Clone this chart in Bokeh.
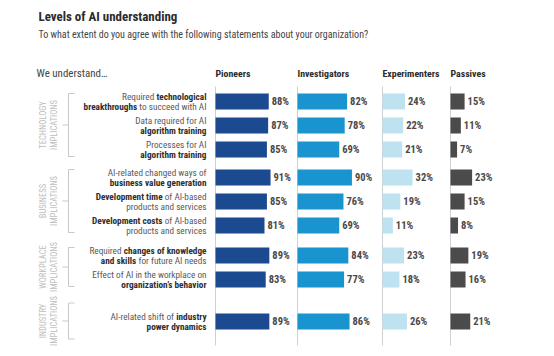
import glob, os, math
from bokeh.plotting import figure
from bokeh.models import Range1d
from bokeh.core.properties import value
from bokeh.embed import file_html
from bokeh.resources import INLINE

# ---------------- data ----------------
title = "Levels of AI understanding"
subtitle = "To what extent do you agree with the following statements about your organization?"
lead = "We understand…"
series_names = ["Pioneers", "Investigators", "Experimenters", "Passives"]

statement_top = [
    "Required **technological**",
    "Data required for AI",
    "Processes for AI",
    "AI-related changed ways of",
    "**Development time** of AI-based",
    "**Development costs** of AI-based",
    "Required **changes of knowledge**",
    "Effect of AI in the workplace on",
    "AI-related shift of **industry**",
]
statement_bottom = [
    "**breakthroughs** to succeed with AI",
    "**algorithm training**",
    "**algorithm training**",
    "**business value generation**",
    "products and services",
    "products and services",
    "**and skills** for future AI needs",
    "**organization’s behavior**",
    "**power dynamics**",
]
group_line1 = ["TECHNOLOGY", "BUSINESS", "WORKPLACE", "INDUSTRY"]
group_line2 = ["IMPLICATIONS", "IMPLICATIONS", "IMPLICATIONS", "IMPLICATIONS"]
group_sizes = [3, 3, 2, 1]

pioneers = [88, 87, 85, 91, 85, 81, 89, 83, 89]
investigators = [82, 78, 69, 90, 76, 69, 84, 77, 86]
experimenters = [24, 22, 21, 32, 19, 11, 23, 18, 26]
passives = [15, 11, 7, 23, 15, 8, 19, 16, 21]

# ---------------- fonts ----------------
def find_file(names):
    dirs = ["/usr/share/fonts", "/usr/local/share/fonts",
            os.path.expanduser("~/.fonts"), os.path.expanduser("~/.local/share/fonts")]
    for n in names:
        for d in dirs:
            hits = glob.glob(os.path.join(d, "**", n), recursive=True)
            if hits:
                return hits[0]
    return None

FONT = "Liberation Sans Narrow"
REG = find_file(["LiberationSansNarrow-Regular.ttf"])
BLD = find_file(["LiberationSansNarrow-Bold.ttf"])
if not (REG and BLD):
    FONT = "Roboto Condensed"
    REG = find_file(["RobotoCondensed-Regular.ttf"])
    BLD = find_file(["RobotoCondensed-Bold.ttf"])
if not (REG and BLD):
    FONT = "Roboto"
    REG = find_file(["Roboto-Regular.ttf"])
    BLD = find_file(["Roboto-Bold.ttf"])

_fonts = {}
def text_w(s, size, bold):
    path = BLD if bold else REG
    try:
        from PIL import ImageFont
        if path not in _fonts:
            _fonts[path] = ImageFont.truetype(path, 100)
        return _fonts[path].getlength(s) * size / 100.0
    except Exception:
        return len(s) * size * (0.5 if bold else 0.46)

def fit(s, bold, target, default, lo=6.0, hi=20.0):
    w = text_w(s, 1.0, bold)
    if w <= 0:
        return default
    return max(lo, min(hi, target / w))

def parse(line):
    parts = line.split("**")
    segs = []
    for i, t in enumerate(parts):
        t = t.strip()
        if t:
            segs.append((t, i % 2 == 1))
    return segs

def line_w(segs, size):
    w = sum(text_w(t, size, b) for t, b in segs)
    w += (len(segs) - 1) * text_w(" ", size, False)
    return w

# ---------------- figure ----------------
W, H = 554, 356
p = figure(width=W, height=H, x_range=Range1d(0, W), y_range=Range1d(H, 0),
           output_backend="svg", toolbar_location=None, min_border=0,
           x_axis_type=None, y_axis_type=None)
p.xgrid.visible = False
p.ygrid.visible = False
p.outline_line_color = None
p.background_fill_color = "white"
p.border_fill_color = "white"

def txt(x, y, s, size, bold=False, color="#333333", align="left", angle=0.0, rng="default"):
    p.text(x=[x], y=[y], text=[s], text_font=value(FONT), text_font_size=f"{size:.2f}px",
           text_font_style="bold" if bold else "normal", text_color=color,
           text_align=align, text_baseline="middle", angle=angle, x_range_name=rng)

# title & subtitle
txt(38, 16, title, fit(title, True, 139, 13), bold=True, color="#2b2b2b")
txt(38, 34, subtitle, fit(subtitle, False, 330, 9.6), color="#444444")
txt(36, 73, lead, fit(lead, False, 71, 9.2), color="#444444")

# row positions
group_gap = [0, 4, 10, 28]
row_y = []
i = 0
for g, n in enumerate(group_sizes):
    for _ in range(n):
        row_y.append(101 + 24 * i + group_gap[g])
        i += 1

# columns with their own scales
col_x0 = [215, 297, 382, 450]
col_px = [0.605, 0.605, 0.94, 0.94]
col_colors = ["#1c4a90", "#1a94cf", "#bee2ef", "#4b4b4b"]
col_data = [pioneers, investigators, experimenters, passives]
hdr_size = fit("Experimenters", True, 57, 9.6)

for k, name in enumerate(series_names):
    rn = f"c{k}"
    p.extra_x_ranges[rn] = Range1d(-col_x0[k] / col_px[k], (W - col_x0[k]) / col_px[k])
    p.segment(x0=[0], x1=[0], y0=[86], y1=[345], line_color="#d0d0d0", line_width=1,
              x_range_name=rn)
    p.hbar(y=row_y, left=0, right=col_data[k], height=16, fill_color=col_colors[k],
           line_color=None, x_range_name=rn)
    p.text(x=col_data[k], y=row_y, text=[f"{v}%" for v in col_data[k]], x_offset=3,
           text_font=value(FONT), text_font_size="10.5px", text_font_style="bold",
           text_color="#4a4848", text_baseline="middle", text_align="left",
           x_range_name=rn)
    txt(0, 73, name, hdr_size, bold=True, color="#2b2b2b", rng=rn)

# statement labels (mixed bold)
ref = parse(statement_bottom[0])
st_size = 123.0 / line_w(ref, 1.0) if line_w(ref, 1.0) > 0 else 8.5
st_size = max(7.0, min(st_size, 10.0))
XR = 206
for r in range(len(row_y)):
    for dy, line in ((-4.6, statement_top[r]), (4.6, statement_bottom[r])):
        segs = parse(line)
        x = XR
        sp = text_w(" ", st_size, False)
        for t, b in reversed(segs):
            txt(x, row_y[r] + dy, t, st_size, bold=b,
                color="#2e2e2e" if b else "#5a5a5a", align="right")
            x -= text_w(t, st_size, b) + sp

# group brackets & labels
gl_size = fit("IMPLICATIONS", False, 50, 8.4)
start = 0
for g, n in enumerate(group_sizes):
    ys = row_y[start:start + n]
    top, bot = ys[0] - 8, ys[-1] + 7
    if bot - top < 36:
        c = (top + bot) / 2
        top, bot = c - 18, c + 18
    mid = (top + bot) / 2
    bx = 68
    p.segment(x0=[bx, bx, bx, bx - 6], x1=[bx, bx + 6, bx + 6, bx],
              y0=[top, top, bot, mid], y1=[bot, top, bot, mid],
              line_color="#c8c8c8", line_width=1)
    txt(42, mid, group_line1[g], gl_size, color="#bdbdbd", align="center", angle=math.pi / 2)
    txt(53, mid, group_line2[g], gl_size, color="#bdbdbd", align="center", angle=math.pi / 2)
    start += n

open("out.html", "w").write(file_html(p, INLINE))
